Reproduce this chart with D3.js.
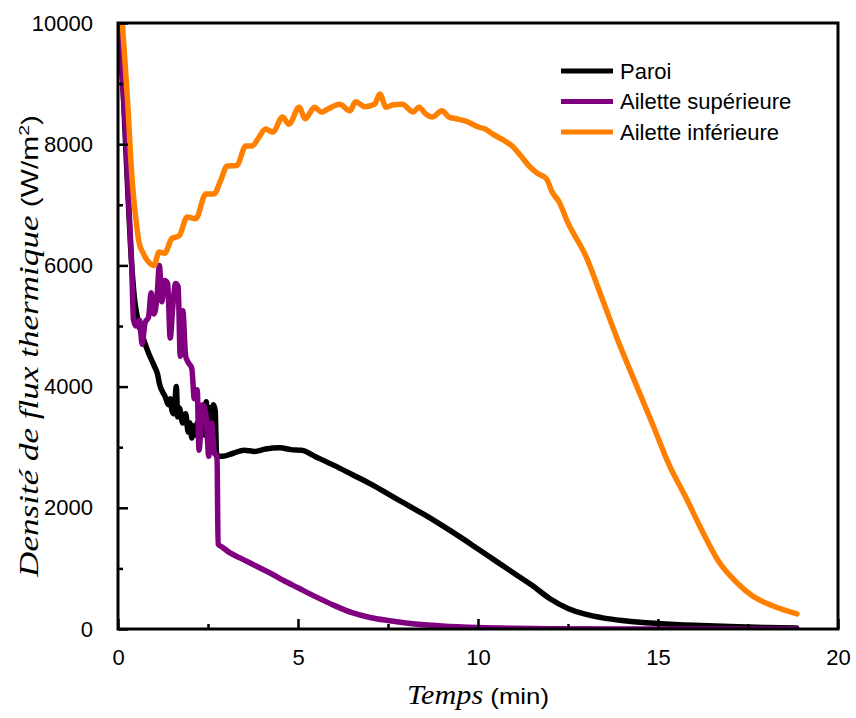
<!DOCTYPE html>
<html>
<head>
<meta charset="utf-8">
<script src="https://cdn.jsdelivr.net/npm/d3@7"></script>
<style>
body { margin: 0; background: #fff; }
text { font-family: "Liberation Sans", Arial, sans-serif; fill: #000; }
.serif { font-family: "Liberation Serif", "Times New Roman", serif; font-style: italic; }
</style>
</head>
<body>
<script>
// data (time in min, flux in W/m2)
const paroiT = [0.05,0.15,0.25,0.35,0.45,0.55,0.7,0.85,1.0,1.1,1.15,1.25,1.3,1.4,1.45,1.5,1.55,1.62,1.66,1.7,1.8,1.88,1.95,2.0,2.05,2.1,2.15,2.2,2.25,2.3,2.35,2.4,2.45,2.5,2.55,2.6,2.65,2.7,2.74,2.9,3.2,3.5,3.8,4.1,4.5,4.8,5.1,5.5,6.0,6.5,7.0,7.5,8.0,8.5,9.0,9.5,10.0,10.5,11.0,11.5,12.0,12.5,13.0,13.5,14.0,14.5,15.0,16.0,17.0,18.0,18.85];
const paroiV = [10000,8800,7500,6300,5500,5100,4800,4550,4350,4200,4050,3900,3850,3700,3800,3600,3550,4000,3500,3650,3400,3550,3250,3400,3150,3350,3200,3400,3150,3250,3500,3200,3750,3350,3650,3450,3700,3600,2850,2850,2900,2950,2930,2970,2990,2960,2950,2840,2700,2550,2400,2230,2060,1890,1710,1520,1320,1120,920,720,500,340,240,180,140,110,90,60,40,25,15];

const supT = [0.0,0.1,0.2,0.3,0.38,0.43,0.5,0.6,0.67,0.75,0.85,0.92,1.0,1.08,1.15,1.22,1.3,1.38,1.45,1.52,1.6,1.67,1.73,1.8,1.88,1.95,2.05,2.12,2.2,2.25,2.35,2.45,2.52,2.6,2.68,2.75,2.78,2.9,3.1,3.4,3.7,4.0,4.3,4.6,5.0,5.5,6.0,6.5,7.0,7.5,8.0,8.5,9.0,10.0,11.0,12.0,14.0,18.85];
const supV = [10000,9300,8300,7000,6000,5100,5000,5100,4700,5050,5150,5550,5200,5450,6000,5400,5750,5700,4800,5300,5700,5650,4500,5250,4500,4400,4300,3800,3950,2950,3700,3500,2850,3400,2900,2850,1400,1350,1260,1170,1080,990,900,800,680,530,390,270,190,140,100,70,50,25,12,6,2,0];

const infT = [0.12,0.2,0.28,0.35,0.42,0.5,0.58,0.7,0.86,1.0,1.14,1.3,1.49,1.7,1.92,2.16,2.44,2.67,2.85,3.03,3.3,3.55,3.73,3.9,4.1,4.3,4.57,4.75,5.03,5.2,5.46,5.65,5.83,6.16,6.44,6.6,6.85,7.13,7.27,7.45,7.65,7.9,8.2,8.36,8.55,8.73,9.0,9.19,9.4,9.66,10.03,10.2,10.4,10.7,10.95,11.2,11.42,11.65,11.9,12.06,12.25,12.5,12.99,13.45,13.9,14.4,14.87,15.3,15.8,16.2,16.7,17.2,17.64,18.2,18.86];
const infV = [10000,9300,8580,7800,7210,6750,6390,6200,6050,6000,6220,6200,6440,6490,6800,6770,7180,7180,7400,7640,7650,7970,7970,8100,8250,8200,8450,8330,8610,8420,8610,8530,8580,8660,8550,8700,8620,8660,8830,8610,8650,8660,8530,8610,8500,8450,8550,8450,8420,8380,8280,8250,8170,8070,7970,7800,7640,7520,7430,7210,7050,6700,6160,5450,4740,4020,3350,2720,2140,1650,1100,760,540,380,250];

const seriesNames = ['Paroi','Ailette supérieure','Ailette inférieure'];
const seriesColors = ['#000000','#800080','#FF8000'];
const xTicks = [0,5,10,15,20];
const xMinorTicks = [2.5,7.5,12.5,17.5];
const yTicks = [0,2000,4000,6000,8000,10000];
const yMinorTicks = [1000,3000,5000,7000,9000];

const W = 856, H = 718;
const margin = {left:118, top:23, right:18, bottom:89};

const svg = d3.select('body').append('svg').attr('width',W).attr('height',H);

const x = d3.scaleLinear().domain([0,20]).range([margin.left, W-margin.right]);
const y = d3.scaleLinear().domain([0,10000]).range([H-margin.bottom, margin.top]);

const series = [
	{name:seriesNames[0], color:seriesColors[0], pts:paroiT.map((t,i)=>[t,paroiV[i]])},
	{name:seriesNames[1], color:seriesColors[1], pts:supT.map((t,i)=>[t,supV[i]])},
	{name:seriesNames[2], color:seriesColors[2], pts:infT.map((t,i)=>[t,infV[i]])}
];

// clip to plot box
svg.append('clipPath').attr('id','clip').append('rect')
	.attr('x',x(0)).attr('y',y(10000)).attr('width',x(20)-x(0)).attr('height',y(0)-y(10000));

const line = d3.line().x(d=>x(d[0])).y(d=>y(d[1])).curve(d3.curveMonotoneX);
svg.append('g').attr('clip-path','url(#clip)').selectAll('path')
	.data(series).enter().append('path')
	.attr('d',d=>line(d.pts))
	.attr('fill','none').attr('stroke',d=>d.color)
	.attr('stroke-width',5.5).attr('stroke-linejoin','round').attr('stroke-linecap','round');

// axes, ticks pointing inward
const xAxis = d3.axisBottom(x).tickValues(xTicks).tickSize(-10).tickPadding(20).tickFormat(d3.format('d'));
const xMinor = d3.axisBottom(x).tickValues(xMinorTicks).tickSize(-5).tickFormat('');
const yAxis = d3.axisLeft(y).tickValues(yTicks).tickSize(-10).tickPadding(25).tickFormat(d3.format('d'));
const yMinor = d3.axisLeft(y).tickValues(yMinorTicks).tickSize(-5).tickFormat('');

function styleAxis(g){
	g.select('.domain').remove();
	g.selectAll('line').attr('stroke','#000').attr('stroke-width',2.5);
	g.selectAll('text').attr('fill','#000').style('font-size','22px');
}
svg.append('g').attr('transform','translate(0,'+y(0)+')').call(xAxis).call(styleAxis);
svg.append('g').attr('transform','translate(0,'+y(0)+')').call(xMinor).call(styleAxis);
svg.append('g').attr('transform','translate('+x(0)+',0)').call(yAxis).call(styleAxis);
svg.append('g').attr('transform','translate('+x(0)+',0)').call(yMinor).call(styleAxis);

// frame
svg.append('rect')
	.attr('x',x(0)).attr('y',y(10000)).attr('width',x(20)-x(0)).attr('height',y(0)-y(10000))
	.attr('fill','none').attr('stroke','#000').attr('stroke-width',3);

// axis titles (stretched along their length like the reference)
const xt = svg.append('text')
	.attr('transform','translate('+((x(0)+x(20))/2)+',704) scale(1.12,1)')
	.attr('text-anchor','middle').style('font-size','27px');
xt.append('tspan').attr('class','serif').text('Temps');
xt.append('tspan').style('font-size','23px').text(' (min)');

const yt = svg.append('text')
	.attr('transform','translate(38,346) rotate(-90) scale(1.3,1)')
	.attr('text-anchor','middle').style('font-size','27px');
yt.append('tspan').attr('class','serif').text('Densité de flux thermique');
yt.append('tspan').style('font-size','23px').text(' (W/m');
yt.append('tspan').attr('dy','-9').style('font-size','15px').text('2');
yt.append('tspan').attr('dy','9').style('font-size','23px').text(')');

// legend
const leg = svg.append('g').selectAll('g').data(series).enter().append('g')
	.attr('transform',(d,i)=>'translate(561,'+(71+i*30.5)+')');
leg.append('line').attr('x1',0).attr('x2',52).attr('y1',0).attr('y2',0)
	.attr('stroke',d=>d.color).attr('stroke-width',5);
leg.append('text').attr('x',59).attr('y',0).attr('dy','0.35em')
	.style('font-size','22px').text(d=>d.name);
</script>
</body>
</html>
